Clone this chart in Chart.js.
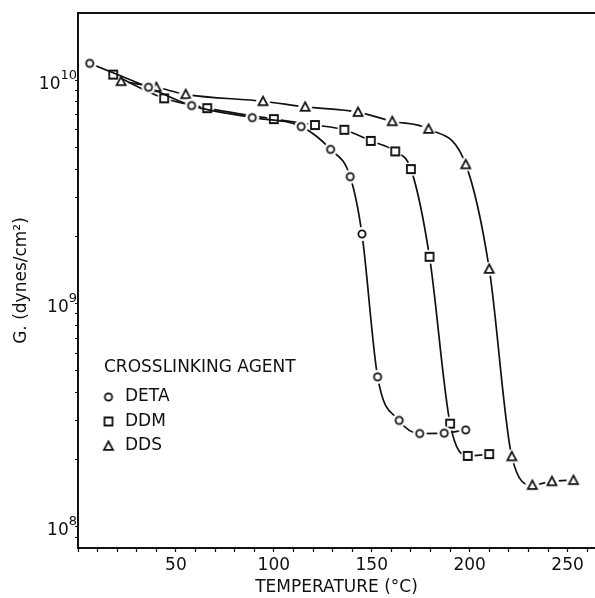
<!DOCTYPE html>
<html><head><meta charset="utf-8">
<script src="https://cdn.jsdelivr.net/npm/chart.js@4.4.0/dist/chart.umd.min.js"></script>
<style>html,body{margin:0;padding:0;background:#fff;}#wrap{width:595px;height:598px;position:relative;}</style>
</head><body><div id="wrap"><canvas id="c" width="595" height="598"></canvas></div>
<script>
// Temperature (°C) and shear modulus G (dynes/cm²)
const detaT = [6, 36, 58, 89, 114, 129, 139, 145, 153, 164, 174.5, 187, 198];
const detaG = [1.19e10, 9.3e9, 7.7e9, 6.8e9, 6.2e9, 4.9e9, 3.7e9, 2.05e9, 4.7e8, 3.0e8, 2.62e8, 2.63e8, 2.72e8];
const ddmT = [18, 44, 66, 100, 121, 136, 149.5, 162, 170, 179.5, 190, 199, 210];
const ddmG = [1.06e10, 8.3e9, 7.5e9, 6.7e9, 6.3e9, 6.0e9, 5.35e9, 4.8e9, 4.0e9, 1.62e9, 2.9e8, 2.08e8, 2.12e8];
const ddsT = [22, 40, 55, 94.5, 116, 143, 160.5, 179, 198, 210, 221.5, 232, 242, 253];
const ddsG = [9.9e9, 9.3e9, 8.65e9, 8.05e9, 7.6e9, 7.2e9, 6.55e9, 6.05e9, 4.2e9, 1.43e9, 2.07e8, 1.54e8, 1.6e8, 1.62e8];

const seriesNames = ['DETA', 'DDM', 'DDS'];
const legendTitle = 'CROSSLINKING AGENT';
const xTitle = 'TEMPERATURE (°C)';
const yTitle = 'G. (dynes/cm²)';
const xTickLabels = [50, 100, 150, 200, 250];
const yTickValues = [9e7, 1e8, 2e8, 3e8, 4e8, 5e8, 6e8, 7e8, 8e8, 9e8, 1e9, 2e9, 3e9, 4e9, 5e9, 6e9, 7e9, 8e9, 9e9, 1e10];
const yMajor = [[1e8, '10', '8'], [1e9, '10', '9'], [1e10, '10', '10']];

const FONT = 'DejaVu Sans';
const INK = '#111';

function makeMarker(type) {
  const c = document.createElement('canvas');
  c.width = 16; c.height = 16;
  const g = c.getContext('2d');
  g.fillStyle = '#fff';
  g.beginPath(); g.arc(8, 8, 7, 0, Math.PI * 2); g.fill();
  g.strokeStyle = INK; g.lineWidth = 1.8;
  g.beginPath();
  if (type === 'circle') g.arc(8, 8, 3.6, 0, Math.PI * 2);
  else if (type === 'square') g.rect(4, 4, 8, 8);
  else { g.moveTo(8, 3.3); g.lineTo(12.5, 11.8); g.lineTo(3.5, 11.8); g.closePath(); }
  g.stroke();
  return c;
}
const markers = [makeMarker('circle'), makeMarker('square'), makeMarker('triangle')];

function ds(T, G, i) {
  return {
    label: seriesNames[i],
    data: T.map((t, k) => ({x: t, y: G[k]})),
    borderColor: INK, borderWidth: 1.7,
    cubicInterpolationMode: 'monotone',
    pointStyle: markers[i], pointRadius: 5,
    fill: false
  };
}

const framePlugin = {
  id: 'frame',
  afterDraw(chart) {
    const {ctx, chartArea: a} = chart;
    const ys = chart.scales.y;
    ctx.save();
    ctx.strokeStyle = INK; ctx.lineWidth = 2;
    ctx.beginPath();
    ctx.moveTo(a.left, a.top); ctx.lineTo(a.right, a.top);
    ctx.stroke();
    ctx.fillStyle = INK;
    // y major tick labels with superscript exponents
    ctx.textBaseline = 'middle';
    ctx.textAlign = 'right';
    yMajor.forEach(([v, base, exp]) => {
      const py = ys.getPixelForValue(v);
      ctx.font = '13px "' + FONT + '"';
      const ew = ctx.measureText(exp).width;
      ctx.fillText(exp, 77, py - 5);
      ctx.font = '17px "' + FONT + '"';
      ctx.fillText(base, 77 - ew, py + 4);
    });
    // legend
    ctx.font = '17px "' + FONT + '"';
    ctx.textAlign = 'left';
    ctx.fillText(legendTitle, 104, 368);
    const ly = [397, 421.5, 446];
    seriesNames.forEach((n, i) => {
      ctx.drawImage(markers[i], 108.5 - 8, ly[i] - 8);
      ctx.fillText(n, 125, ly[i]);
    });
    ctx.restore();
  }
};

new Chart(document.getElementById('c'), {
  type: 'line',
  data: {datasets: [ds(detaT, detaG, 0), ds(ddmT, ddmG, 1), ds(ddsT, ddsG, 2)]},
  options: {
    responsive: false, animation: false,
    layout: {autoPadding: false, padding: {top: 13, left: 0, right: 0, bottom: 0}},
    plugins: {legend: {display: false}, tooltip: {enabled: false}},
    scales: {
      x: {
        type: 'linear', min: 0, max: 264,
        afterFit(s) { s.height = 50; s.paddingLeft = 0; s.paddingRight = 0; },
        afterBuildTicks(s) { const t = []; for (let v = 0; v <= 260; v += 10) t.push({value: v}); s.ticks = t; },
        ticks: {autoSkip: false, maxRotation: 0, padding: 3, color: INK,
          font: {family: FONT, size: 17},
          callback: v => xTickLabels.includes(v) ? String(v) : ''},
        grid: {drawOnChartArea: false, tickLength: 4, tickColor: INK, tickWidth: 1.2},
        border: {display: true, color: INK, width: 2},
        title: {display: true, text: xTitle, color: INK, font: {family: FONT, size: 17}, padding: {top: 0, bottom: 0}}
      },
      y: {
        type: 'logarithmic', min: 8.05e7, max: 2e10,
        afterFit(s) { s.width = 78; s.paddingTop = 0; s.paddingBottom = 0; },
        afterBuildTicks(s) { s.ticks = yTickValues.map(v => ({value: v})); },
        ticks: {autoSkip: false, padding: 0, color: INK,
          font: {family: FONT, size: 17},
          callback: () => ''},
        grid: {drawOnChartArea: false, tickLength: 3, tickColor: INK, tickWidth: 1.2},
        border: {display: true, color: INK, width: 2},
        title: {display: true, text: yTitle, color: INK, font: {family: FONT, size: 17}, padding: {top: 11, bottom: 0}}
      }
    }
  },
  plugins: [framePlugin]
});
</script></body></html>
